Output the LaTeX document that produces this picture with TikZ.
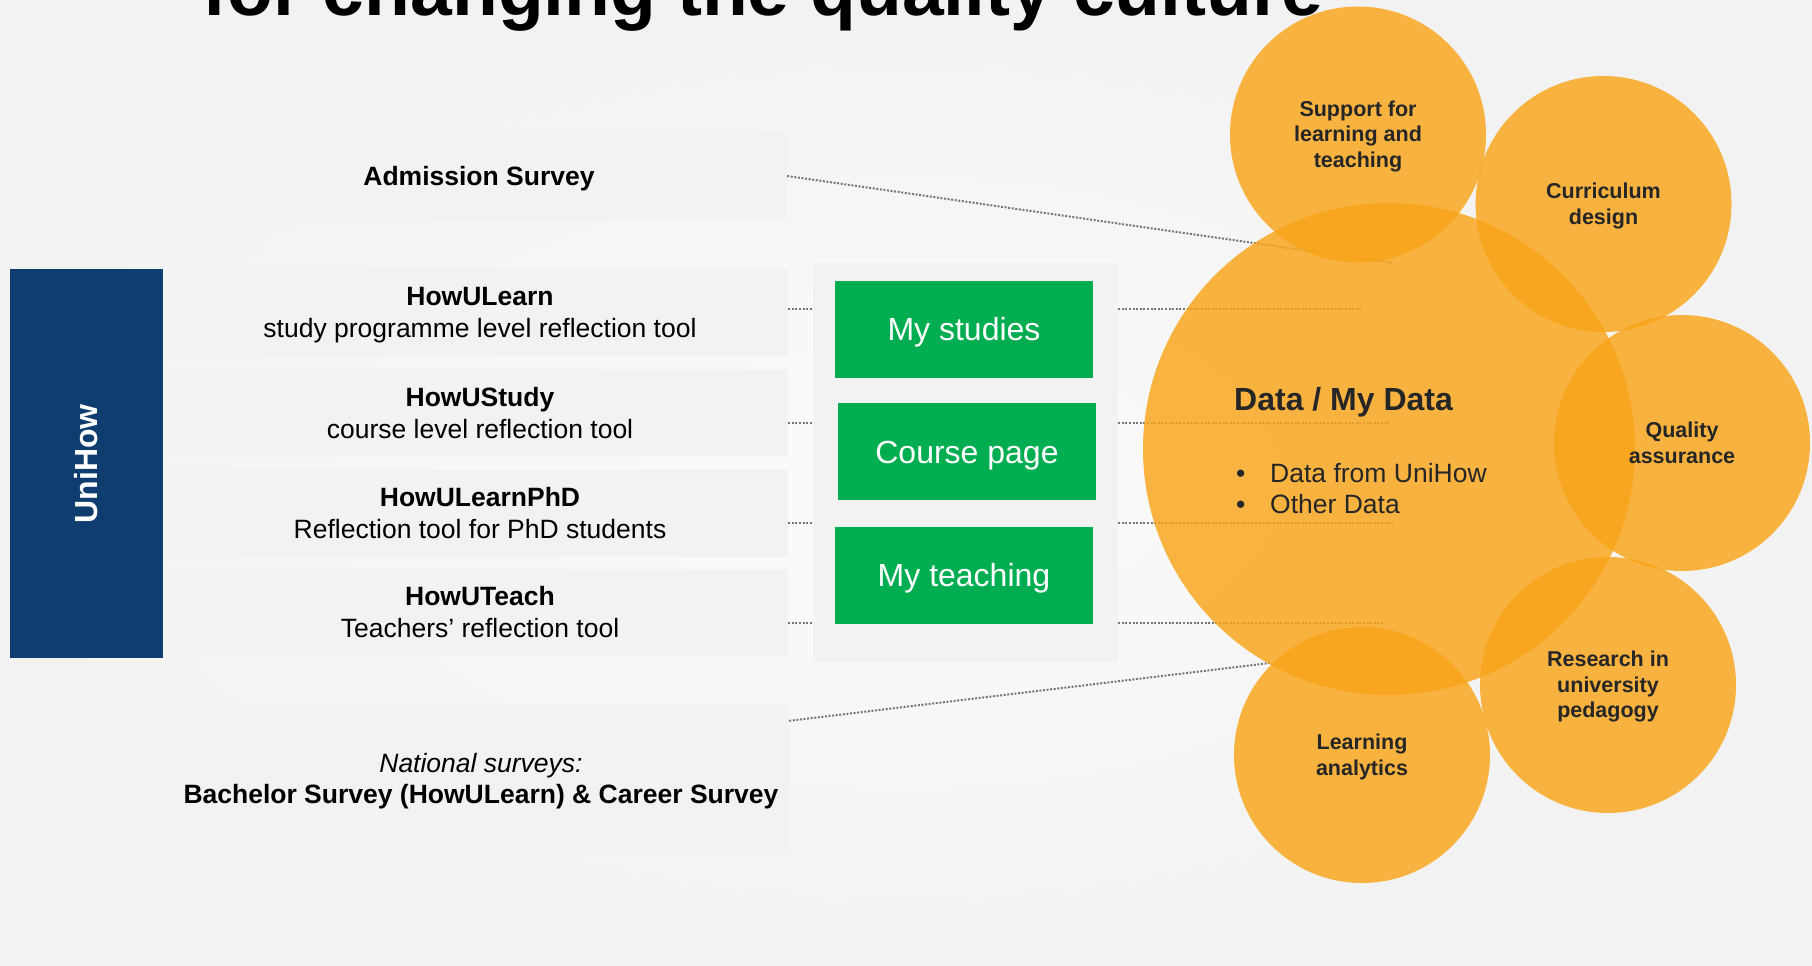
\documentclass[tikz,border=0pt]{standalone}
\usepackage{fontspec}
\setmainfont{Liberation Sans}
\usetikzlibrary{positioning,calc}

\definecolor{uniBlue}{HTML}{103D6F}
\definecolor{boxGray}{HTML}{F2F2F2}
\definecolor{appGreen}{HTML}{00AD50}
\definecolor{bubble}{HTML}{F9A418}
\definecolor{inkGray}{HTML}{262626}
\definecolor{dotGray}{HTML}{777777}

\begin{document}
\begin{tikzpicture}[x=1pt,y=-1pt,every text node part/.style={align=center}]
\tikzset{myFont/.style={font=\fontsize{26.5}{32}\selectfont,text height=56pt,text depth=5.6pt}}
\tikzset{myBox/.style={fill=boxGray,minimum width=616pt,minimum height=87pt,inner sep=0pt,myFont}}
\tikzset{myApp/.style={fill=appGreen,text=white,minimum width=258pt,minimum height=97pt,inner sep=0pt,font=\fontsize{32}{38}\selectfont,text height=29pt,text depth=6.8pt}}
\tikzset{myBubble/.style={circle,fill=bubble,fill opacity=.82,text opacity=1,text=inkGray,minimum size=256pt,inner sep=0pt,font=\bfseries\fontsize{21.5}{25.5}\selectfont,text height=45pt,text depth=4.6pt}}
\tikzset{myThree/.style={text height=70.5pt}}
\tikzset{myDots/.style={dotGray,line width=2pt,dash pattern=on 2pt off 1.6pt}}

\useasboundingbox (0,0) rectangle (1812,966);
\clip (0,0) rectangle (1812,966);
\shade[inner color=white!98.5!black,outer color=white!95!black] (0,0) rectangle (1812,966);

% heading, cut by the page top
\node[anchor=base west,inner sep=0pt,font=\bfseries\fontsize{75}{80}\selectfont] (title) at (202,16) {for changing the quality culture};

% surveys and reflection tools
\node[myBox,minimum height=88pt,text height=24pt] (admission) at (479,176) {\textbf{Admission Survey}};
\node[myBox] (howulearn) at (480,312.5) {\textbf{HowULearn}\\study programme level reflection tool};
\node[myBox,below=13pt of howulearn] (howustudy) {\textbf{HowUStudy}\\course level reflection tool};
\node[myBox,below=13pt of howustudy] (howuphd) {\textbf{HowULearnPhD}\\Reflection tool for PhD students};
\node[myBox,below=12pt of howuphd] (howuteach) {\textbf{HowUTeach}\\Teachers’ reflection tool};
\node[myBox,minimum height=148pt,font=\fontsize{26.5}{31}\selectfont,text height=55pt] (national) at (481,779) {\textit{National surveys:}\\\textbf{Bachelor Survey (HowULearn) \& Career Survey}};

\node[fill=uniBlue,text=white,minimum width=153pt,minimum height=389pt,inner sep=0pt,anchor=north east,font=\bfseries\fontsize{32}{36}\selectfont] (unihow) at (163,269) {\rotatebox{90}{UniHow}};

% portal views
\node[fill=boxGray,minimum width=305pt,minimum height=399pt,inner sep=0pt] (panel) at (965.5,462.5) {};
\node[myApp] (mystudies) at (964,329.5) {My studies};
\node[myApp,below=25pt of mystudies,xshift=3pt] (coursepage) {Course page};
\node[myApp,below=26pt of coursepage,xshift=-3pt] (myteaching) {My teaching};

% where the data lines end
\coordinate (endAdm) at (1393,263);
\coordinate (endL) at (1361,309);
\coordinate (endS) at (1389,423);
\coordinate (endP) at (1392,523);
\coordinate (endT) at (1383,623);
\coordinate (endNat) at (1270,663);

\draw[myDots] (admission.east) -- (endAdm);
\draw[myDots] ($(national.north east)+(0,16)$) -- (endNat);
\draw[myDots] (howulearn.east |- endL) -- (panel.west |- endL);
\draw[myDots] (howustudy.east |- endS) -- (panel.west |- endS);
\draw[myDots] (howuphd.east |- endP) -- (panel.west |- endP);
\draw[myDots] (howuteach.east |- endT) -- (panel.west |- endT);
\draw[myDots] (panel.east |- endL) -- (endL);
\draw[myDots] (panel.east |- endS) -- (endS);
\draw[myDots] (panel.east |- endP) -- (endP);
\draw[myDots] (panel.east |- endT) -- (endT);

% data and its uses
\node[myBubble,minimum size=492pt] (data) at (1389,449) {};
\node[myBubble,myThree] (support) at (1358,134.5) {Support for\\learning and\\teaching};
\node[myBubble] (curriculum) at (1603.5,204) {Curriculum\\design};
\node[myBubble] (quality) at (1682,443) {Quality\\assurance};
\node[myBubble,myThree] (research) at (1608,685) {Research in\\university\\pedagogy};
\node[myBubble] (analytics) at (1362,755) {Learning\\analytics};

\node[anchor=base west,inner sep=0pt,text=inkGray,font=\bfseries\fontsize{32}{38}\selectfont] (datatitle) at (1234,410) {Data / My Data};
\node[anchor=base west,inner sep=0pt,text=inkGray,font=\fontsize{26.5}{32}\selectfont] (dataA) at (1236,482) {\makebox[34pt][l]{\textbullet}Data from UniHow};
\node[anchor=base west,inner sep=0pt,text=inkGray,font=\fontsize{26.5}{32}\selectfont] (dataB) at (1236,513.5) {\makebox[34pt][l]{\textbullet}Other Data};

\end{tikzpicture}
\end{document}
